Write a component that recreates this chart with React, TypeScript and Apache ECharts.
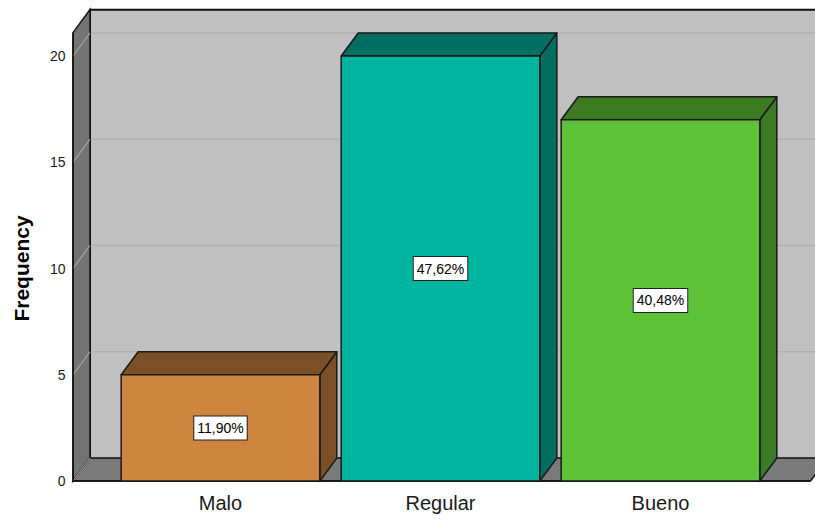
import React, { useEffect, useRef } from "react";
import * as echarts from "echarts";

const categories = ["Malo", "Regular", "Bueno"];
const frequencies = [5, 20, 17];
const percentLabels = ["11,90%", "47,62%", "40,48%"];
const yMin = 0;
const yMax = 20;
const yInterval = 5;
const gridValues = [0, 5, 10, 15, 20];

const frontColors = ["#CD853F", "#00B5A0", "#5EC238"];
const darkColors = ["#7C5027", "#006E60", "#3D7A24"];

const FONT = '"Liberation Sans", Arial, sans-serif';
const DX = 17;
const DY = -23;
const WALL_TOP_VALUE = 21.1;
const EXTRA_LEFT = 37.5;
const EXTRA_RIGHT = 40;

export default function App() {
  const ref = useRef<HTMLDivElement>(null);
  useEffect(() => {
    if (!ref.current) return;
    const chart = echarts.init(ref.current, null, { renderer: "svg" });
    const option: any = {
      animation: false,
      backgroundColor: "#ffffff",
      grid: { left: 110.5, right: 44.5, top: 56, bottom: 39, containLabel: false },
      xAxis: {
        type: "category",
        data: categories,
        boundaryGap: true,
        axisLine: { show: false },
        axisTick: { show: false },
        axisLabel: { color: "#1a1a1a", fontSize: 20, fontFamily: FONT, margin: 12 },
        splitLine: { show: false },
      },
      yAxis: {
        type: "value",
        min: yMin,
        max: yMax,
        interval: yInterval,
        name: "Frequency",
        nameLocation: "middle",
        nameGap: 79,
        nameRotate: 90,
        nameTextStyle: { color: "#000", fontSize: 21, fontWeight: "bold", fontFamily: FONT },
        axisLine: { show: false },
        axisTick: { show: false },
        splitLine: { show: false },
        axisLabel: { color: "#1a1a1a", fontSize: 14, fontFamily: FONT, margin: 45 },
      },
      series: [
        {
          type: "custom",
          name: "walls",
          z: 1,
          silent: true,
          data: [[0, 0]],
          renderItem: (params: any, api: any) => {
            const cs = params.coordSys;
            const fl = cs.x - EXTRA_LEFT;
            const fr = cs.x + cs.width + EXTRA_RIGHT;
            const y0 = api.coord([0, 0])[1];
            const yTop = api.coord([0, WALL_TOP_VALUE])[1];
            const children: any[] = [];
            children.push({
              type: "polygon",
              shape: {
                points: [
                  [fl + DX, yTop + DY],
                  [fr + DX + 40, yTop + DY],
                  [fr + DX + 40, y0 + DY],
                  [fl + DX, y0 + DY],
                ],
              },
              style: { fill: "#C0C0C0", stroke: "none" },
            });
            gridValues.forEach((v) => {
              const y = api.coord([0, v])[1];
              if (v > 0) {
                children.push({
                  type: "line",
                  shape: { x1: fl + DX, y1: y + DY, x2: fr + DX + 40, y2: y + DY },
                  style: { stroke: "#B2B2B2", lineWidth: 1.5 },
                });
              }
            });
            children.push({
              type: "polyline",
              shape: {
                points: [
                  [fl + DX, y0 + DY],
                  [fl + DX, yTop + DY],
                  [fr + DX + 40, yTop + DY],
                ],
              },
              style: { stroke: "#111", lineWidth: 2, fill: "none" },
            });
            children.push({
              type: "polygon",
              shape: {
                points: [
                  [fl, yTop],
                  [fl + DX, yTop + DY],
                  [fl + DX, y0 + DY],
                  [fl, y0],
                ],
              },
              style: { fill: "#737373", stroke: "#111", lineWidth: 1.5 },
            });
            children.push({
              type: "polygon",
              shape: {
                points: [
                  [fl, y0],
                  [fl + DX, y0 + DY],
                  [fr + DX, y0 + DY],
                  [fr, y0],
                ],
              },
              style: { fill: "#7A7A7A", stroke: "#111", lineWidth: 1.5 },
            });
            gridValues.forEach((v) => {
              const y = api.coord([0, v])[1];
              children.push({
                type: "line",
                shape: { x1: fl, y1: y, x2: fl + DX, y2: y + DY },
                style: { stroke: "#A8A8A8", lineWidth: 1.2 },
              });
            });
            children.push({
              type: "line",
              shape: { x1: fl, y1: yTop, x2: fl, y2: y0 },
              style: { stroke: "#111", lineWidth: 1.5 },
            });
            children.push({
              type: "line",
              shape: { x1: fl, y1: y0, x2: fr, y2: y0 },
              style: { stroke: "#111", lineWidth: 1.5 },
            });
            return { type: "group", children };
          },
        },
        {
          type: "custom",
          name: "Frequency",
          z: 2,
          data: frequencies.map((v, i) => [i, v]),
          renderItem: (params: any, api: any) => {
            const i = api.value(0);
            const v = api.value(1);
            const top = api.coord([i, v]);
            const base = api.coord([i, 0]);
            const bw = api.size([1, 0])[0] * 0.903;
            const xl = top[0] - bw / 2;
            const xr = top[0] + bw / 2;
            const yt = top[1];
            const y0 = base[1];
            const idx = params.dataIndex;
            const stroke = { stroke: "#1a1a1a", lineWidth: 1.5, lineJoin: "round" };
            return {
              type: "group",
              children: [
                {
                  type: "polygon",
                  shape: { points: [[xr, yt], [xr + DX, yt + DY], [xr + DX, y0 + DY], [xr, y0]] },
                  style: { fill: darkColors[idx], ...stroke },
                },
                {
                  type: "polygon",
                  shape: { points: [[xl, yt], [xl + DX, yt + DY], [xr + DX, yt + DY], [xr, yt]] },
                  style: { fill: darkColors[idx], ...stroke },
                },
                {
                  type: "rect",
                  shape: { x: xl, y: yt, width: bw, height: y0 - yt },
                  style: { fill: frontColors[idx], ...stroke },
                },
                {
                  type: "text",
                  x: top[0],
                  y: (yt + y0) / 2,
                  style: {
                    text: percentLabels[idx],
                    fill: "#000",
                    font: `14px ${FONT}`,
                    align: "center",
                    verticalAlign: "middle",
                    backgroundColor: "#ffffff",
                    borderColor: "#222",
                    borderWidth: 1,
                    padding: [5, 3, 4, 3],
                  },
                },
              ],
            };
          },
        },
      ],
    };
    chart.setOption(option);
    return () => chart.dispose();
  }, []);
  return (
    <div
      ref={ref}
      style={{ position: "absolute", left: 0, top: 0, width: 815, height: 520 }}
    />
  );
}
